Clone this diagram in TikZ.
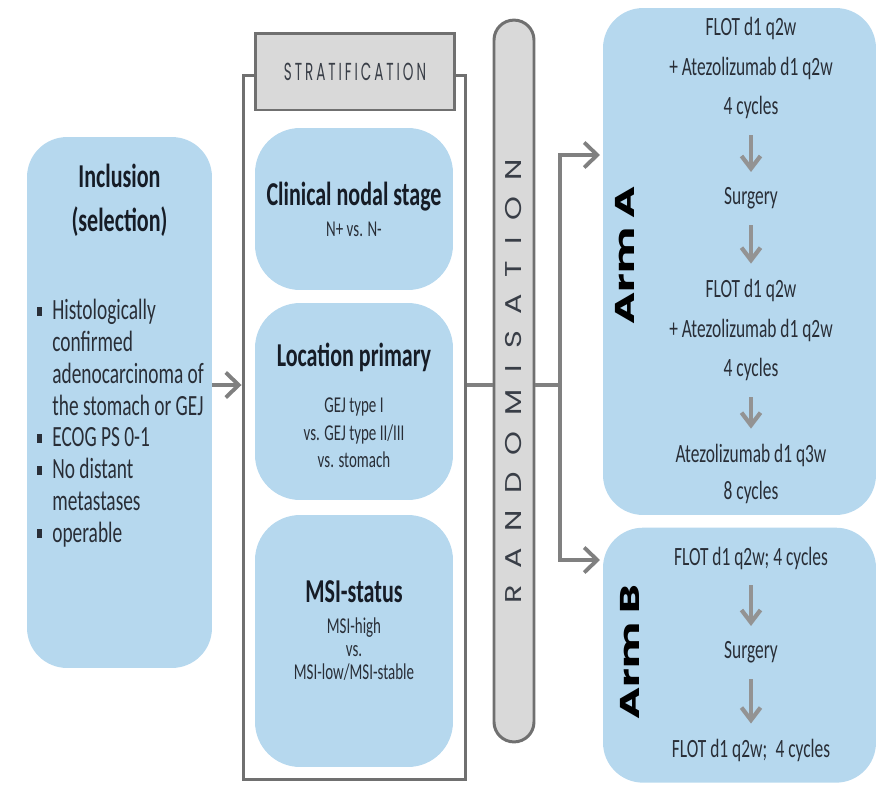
\documentclass[tikz,border=0pt]{standalone}
\usepackage{fontspec}
\setmainfont{Carlito}[FakeStretch=0.66]
\newfontfamily\geofont{Poppins}[FakeStretch=0.55,LetterSpace=12]
\newfontfamily\rotfont{Poppins}[FakeStretch=1.33,LetterSpace=72]
\newfontfamily\armfont{Poppins}[FakeStretch=1.6]
\usetikzlibrary{positioning, arrows.meta}

\definecolor{boxblue}{RGB}{182,216,238}
\definecolor{pillgray}{RGB}{217,217,217}
\definecolor{edgegray}{RGB}{112,112,112}
\definecolor{arrgray}{RGB}{128,128,128}
\definecolor{inkdark}{RGB}{22,28,38}

\newcommand{\itm}{\makebox[0.3cm][l]{\rule[0.3ex]{2.8pt}{5pt}}}
\newcommand{\cont}{\hspace*{0.3cm}}

\tikzset{
  bluebox/.style={fill=boxblue, rounded corners=0.8cm, inner sep=0pt},
  graybar/.style={fill=pillgray, draw=edgegray, line width=1.7pt, inner sep=0pt},
  link/.style={draw=arrgray, line width=2.2pt},
  flow/.style={link, -{Straight Barb[length=0.26cm, width=0.5cm]}},
  downflow/.style={draw=arrgray!85, line width=2.4pt, shorten <=0.2cm, shorten >=0.18cm,
    -{Straight Barb[length=0.25cm, width=0.38cm]}},
  headtxt/.style={font=\bfseries\fontsize{19}{20}\selectfont, text=inkdark, align=center},
  subtxt/.style={font=\fontsize{12.9}{15.6}\selectfont, text=inkdark!92, align=center},
  armtxt/.style={font=\fontsize{15}{22.7}\selectfont, text=inkdark!92, align=center},
  armlabel/.style={rotate=90, font=\armfont\bfseries\fontsize{15.5}{16}\selectfont, text=black}
}

\begin{document}
\begin{tikzpicture}[x=0.02cm, y=-0.02cm]
\useasboundingbox (0,0) rectangle (887,785);

% inclusion
\node[bluebox, minimum width=3.7cm, minimum height=10.62cm] (incl) at (119.5,402.5) {};
\node[font=\bfseries\fontsize{19}{25}\selectfont, text=inkdark, align=center] (inclT) at (119.5,200) {Inclusion\\(selection)};
\node[font=\fontsize{16.7}{18.1}\selectfont, text=inkdark!92, align=left, anchor=north west, inner sep=0pt] (inclL) at (37,299)
  {\itm Histologically\\ \cont confirmed\\ \cont adenocarcinoma of\\ \cont the stomach or GEJ\\
   \itm ECOG PS 0-1\\ \itm No distant\\ \cont metastases\\ \itm operable};

% stratification
\node[draw=edgegray, line width=1.7pt, minimum width=4.46cm, minimum height=14.1cm] (strat) at (354.5,427.5) {};
\node[graybar, minimum width=4cm, minimum height=1.54cm] (stratH) at (355,71.5)
  {\geofont\fontsize{14}{14}\selectfont\color{inkdark!85}STRATIFICATION};

\node[bluebox, rounded corners=0.9cm, minimum width=3.96cm, minimum height=3.24cm] (nodal) at (354,209) {};
\node[headtxt] (nodalT) at (354,197) {Clinical nodal stage};
\node[subtxt] (nodalS) at (354,229) {N+ vs. N-};

\node[bluebox, rounded corners=0.9cm, minimum width=3.96cm, minimum height=3.94cm] (loc) at (354,401.5) {};
\node[headtxt] (locT) at (354,357) {Location primary};
\node[subtxt] (locS) at (354,433) {GEJ type I\\vs. GEJ type II/III\\vs. stomach};

\node[bluebox, rounded corners=0.9cm, minimum width=3.96cm, minimum height=5.04cm] (msi) at (354,641) {};
\node[headtxt] (msiT) at (354,592) {MSI-status};
\node[subtxt, font=\fontsize{12.9}{13.3}\selectfont] (msiS) at (354,649) {MSI-high\\vs.\\MSI-low/MSI-stable};

% randomisation
\node[graybar, rotate=90, rounded corners=0.4cm, minimum width=14.44cm, minimum height=0.8cm] (rand) at (514,381)
  {\rotfont\fontsize{13}{13}\selectfont\color{inkdark!85}RANDOMISATION};

% arms
\node[bluebox, minimum width=5.46cm, minimum height=10.14cm] (armA) at (739.5,261.5) {};
\node[armlabel] (armAL) at (625,255) {Arm A};
\node[armtxt] (a1) at (751,68) {FLOT d1 q2w\\+ Atezolizumab d1 q2w\\4 cycles};
\node[armtxt] (a2) at (751,198) {Surgery};
\node[armtxt] (a3) at (751,330) {FLOT d1 q2w\\+ Atezolizumab d1 q2w\\4 cycles};
\node[armtxt, font=\fontsize{15}{21.5}\selectfont] (a4) at (751,474) {Atezolizumab d1 q3w\\8 cycles};

\node[bluebox, minimum width=5.46cm, minimum height=5.1cm] (armB) at (739.5,783) [anchor=south] {};
\node[armlabel] (armBL) at (630,652) {Arm B};
\node[armtxt] (b1) at (751,558) {FLOT d1 q2w; 4 cycles};
\node[armtxt] (b2) at (751,652) {Surgery};
\node[armtxt] (b3) at (751,750) {FLOT d1 q2w;\, 4 cycles};

\draw[downflow] (a1) -- (a2);
\draw[downflow] (a2) -- (a3);
\draw[downflow] (a3) -- (a4);
\draw[downflow] (b1) -- (b2);
\draw[downflow] (b2) -- (b3);

% connectors
\coordinate (jn) at (560,385);
\coordinate (toA) at (600,155);
\coordinate (toB) at (600,560);
\draw[flow] (incl.east |- jn) -- (strat.west |- jn);
\draw[link] (strat.east |- jn) -- (rand.north |- jn);
\draw[link] (rand.south |- jn) -- (jn);
\draw[flow] (jn) |- (toA);
\draw[flow] (jn) |- (toB);
\end{tikzpicture}
\end{document}
